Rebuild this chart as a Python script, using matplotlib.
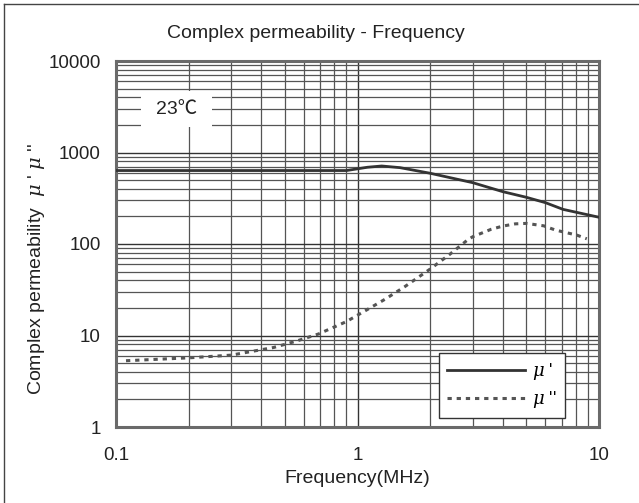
import matplotlib
matplotlib.use("Agg")
import matplotlib.pyplot as plt
from matplotlib.lines import Line2D
from matplotlib.patches import Rectangle
from matplotlib.ticker import LogLocator, NullFormatter

plt.rcParams['font.family'] = ['Liberation Sans', 'Noto Sans CJK JP', 'DejaVu Sans']
plt.rcParams['mathtext.fontset'] = 'dejavuserif'

# Real part of permeability (mu')
freq_real = [0.1, 0.5, 0.9, 1.1, 1.26, 1.5, 2.0, 3.0, 4.0, 5.0, 6.0, 7.1, 9.1, 10.0]
mu_real = [635, 635, 635, 690, 712, 683, 593, 468, 373, 324, 283, 239, 207, 196]

# Imaginary part of permeability (mu'')
freq_imag = [0.11, 0.2, 0.3, 0.45, 0.56, 0.69, 0.9, 1.09, 1.3, 1.57, 2.0, 2.42,
             2.87, 3.0, 3.58, 4.0, 4.5, 5.0, 5.9, 6.6, 8.1, 8.9]
mu_imag = [5.3, 5.7, 6.1, 7.4, 8.7, 10.4, 14.2, 19.0, 24.9, 34.2, 53.3, 77.8,
           112, 120, 145, 157, 166, 168, 158, 142, 125, 114]

x_ticks = [0.1, 1, 10]
x_tick_labels = ["0.1", "1", "10"]
y_ticks = [1, 10, 100, 1000, 10000]
y_tick_labels = ["1", "10", "100", "1000", "10000"]

fig = plt.figure(figsize=(6.39, 5.03), dpi=100)
ax = fig.add_axes([116 / 639, 1 - 427 / 503, 483 / 639, 366 / 503])

ax.set_xscale('log')
ax.set_yscale('log')
ax.set_xlim(0.1, 10)
ax.set_ylim(1, 10000)

ax.set_xticks(x_ticks)
ax.set_xticklabels(x_tick_labels)
ax.set_yticks(y_ticks)
ax.set_yticklabels(y_tick_labels)
ax.xaxis.set_minor_locator(LogLocator(base=10, subs=range(2, 10)))
ax.yaxis.set_minor_locator(LogLocator(base=10, subs=range(2, 10)))
ax.xaxis.set_minor_formatter(NullFormatter())
ax.yaxis.set_minor_formatter(NullFormatter())
ax.tick_params(which='both', length=0, labelsize=13.5, colors='#222222')
ax.tick_params(axis='x', pad=14.5)
ax.tick_params(axis='y', pad=11)

ax.set_axisbelow(True)
ax.grid(which='major', color='#333333', linewidth=1.0)
ax.grid(which='minor', color='#555555', linewidth=0.9)

for s in ax.spines.values():
    s.set_color('#6a6a6a')
    s.set_linewidth(2.2)

ax.plot(freq_real, mu_real, color='#333333', linewidth=2.0, zorder=3)
ax.plot(freq_imag, mu_imag, color='#555555', linewidth=2.2,
        linestyle=(0, (1.4, 1.6)), zorder=3)

# temperature note
ax.add_patch(Rectangle(((141 - 116) / 483, (427 - 126.7) / 366), 71 / 483, 36 / 366,
                       transform=ax.transAxes, facecolor='white', edgecolor='none',
                       zorder=1))
ax.text((177 - 116) / 483, (427 - 109) / 366, "23℃", transform=ax.transAxes,
        ha='center', va='center', fontsize=14, color='#222222', zorder=2)

# legend
leg_handles = [Line2D([], [], color='#333333', linewidth=2.0),
               Line2D([], [], color='#555555', linewidth=2.2, linestyle=(0, (1.4, 1.6)))]
leg = ax.legend(leg_handles, [r"$\mu$ '", r"$\mu$ ''"], loc='upper left',
                bbox_to_anchor=((439 - 116) / 483, (427 - 353) / 366),
                borderaxespad=0, frameon=True, fancybox=False, framealpha=1,
                edgecolor='#333333', fontsize=13, handlelength=4.3,
                handletextpad=0.4, labelspacing=0.4, borderpad=0.45)
leg.get_frame().set_linewidth(1.0)

ax.set_xlabel("Frequency(MHz)", fontsize=14, color='#222222', labelpad=4.5)
ax.set_ylabel(r"Complex permeability  $\mu$ ' $\mu$ ''", fontsize=14,
              color='#222222')
ax.yaxis.set_label_coords((47 - 116) / 483, (427 - 269) / 366)

fig.text(316 / 639, 1 - 34 / 503, "Complex permeability - Frequency",
         ha='center', va='center', fontsize=14, color='#222222')

# outer frame
fig.add_artist(Line2D([4 / 639, 4 / 639], [0, 1 - 4 / 503], transform=fig.transFigure,
                      color='#444444', linewidth=1.0))
fig.add_artist(Line2D([4 / 639, 1], [1 - 4 / 503, 1 - 4 / 503], transform=fig.transFigure,
                      color='#444444', linewidth=1.0))

fig.savefig("out.png", dpi=100)
